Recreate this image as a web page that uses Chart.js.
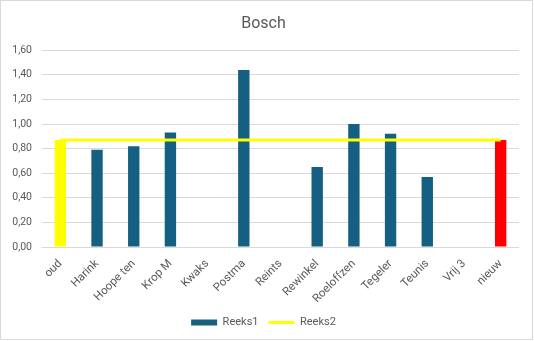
<!DOCTYPE html>
<html>
<head>
<meta charset="utf-8">
<script src="https://cdn.jsdelivr.net/npm/chart.js@4"></script>
<style>
  html, body { margin: 0; padding: 0; background: #fff; }
  #wrap { position: relative; width: 534px; height: 341px; }
</style>
</head>
<body>
<div id="wrap"><canvas id="chart" width="534" height="341"></canvas></div>
<script>
const categories = ['oud', 'Harink', 'Hoope ten', 'Krop M', 'Kwaks', 'Postma', 'Reints',
  'Rewinkel', 'Roeloffzen', 'Tegeler', 'Teunis', 'Vrij 3', 'nieuw'];
const reeks1 = [0.87, 0.79, 0.82, 0.93, 0, 1.44, 0, 0.65, 1.00, 0.92, 0.57, 0, 0.87];
const reeks2 = [0.87, 0.87, 0.87, 0.87, 0.87, 0.87, 0.87, 0.87, 0.87, 0.87, 0.87, 0.87, 0.87];
const yMin = 0;
const yMax = 1.6;
const yStep = 0.2;

const blauw = '#156082';
const geel = '#ffff00';
const rood = '#ff0000';
const tekst = '#595959';
const fam = 'Roboto, "Liberation Sans", sans-serif';

// eerste balk geel, laatste rood, de rest blauw
const balkKleuren = categories.map((c, i) => i === 0 ? geel : (i === categories.length - 1 ? rood : blauw));

const kader = {
  id: 'kader',
  beforeDraw(chart) {
    const ctx = chart.ctx;
    ctx.save();
    ctx.fillStyle = '#fff';
    ctx.fillRect(0, 0, chart.width, chart.height);
    ctx.strokeStyle = '#d9d9d9';
    ctx.lineWidth = 1;
    ctx.strokeRect(0.5, 0.5, chart.width - 2, chart.height - 2);
    ctx.restore();
  }
};

new Chart(document.getElementById('chart'), {
  type: 'bar',
  data: {
    labels: categories,
    datasets: [
      {
        label: 'Reeks1',
        data: reeks1,
        backgroundColor: balkKleuren,
        borderWidth: 0,
        barPercentage: 0.31,
        categoryPercentage: 1,
        order: 2
      },
      {
        type: 'line',
        label: 'Reeks2',
        data: reeks2,
        borderColor: geel,
        backgroundColor: geel,
        borderWidth: 3,
        pointRadius: 0,
        tension: 0,
        order: 1
      }
    ]
  },
  options: {
    responsive: false,
    animation: false,
    layout: { padding: { left: 8, right: 15, top: 0, bottom: 3 } },
    plugins: {
      title: {
        display: true,
        text: 'Bosch',
        color: tekst,
        font: { family: fam, size: 16, weight: 'normal' },
        padding: { top: 14, bottom: 17 }
      },
      legend: {
        position: 'bottom',
        labels: {
          color: tekst,
          font: { family: fam, size: 11 },
          usePointStyle: true,
          pointStyleWidth: 26,
          boxWidth: 26,
          boxHeight: 6,
          padding: 10,
          generateLabels: () => [
            { text: 'Reeks1', fillStyle: blauw, strokeStyle: blauw, lineWidth: 0, pointStyle: 'rect', fontColor: tekst, datasetIndex: 0 },
            { text: 'Reeks2', fillStyle: geel, strokeStyle: geel, lineWidth: 3, pointStyle: 'line', fontColor: tekst, datasetIndex: 1 }
          ]
        }
      },
      tooltip: { enabled: false }
    },
    scales: {
      x: {
        grid: { display: false, drawTicks: false },
        border: { display: false },
        afterFit: (s) => { s.height = 60; },
        ticks: {
          color: tekst,
          font: { family: fam, size: 11.5 },
          minRotation: 45,
          maxRotation: 45,
          padding: 10,
          autoSkip: false
        }
      },
      y: {
        min: yMin,
        max: yMax,
        grid: { color: '#d9d9d9', drawTicks: false },
        border: { display: false },
        afterFit: (s) => { s.width = 34; },
        ticks: {
          stepSize: yStep,
          color: tekst,
          font: { family: fam, size: 10.5 },
          padding: 10,
          callback: (v) => v.toFixed(2).replace('.', ',')
        }
      }
    }
  },
  plugins: [kader]
});
</script>
</body>
</html>
